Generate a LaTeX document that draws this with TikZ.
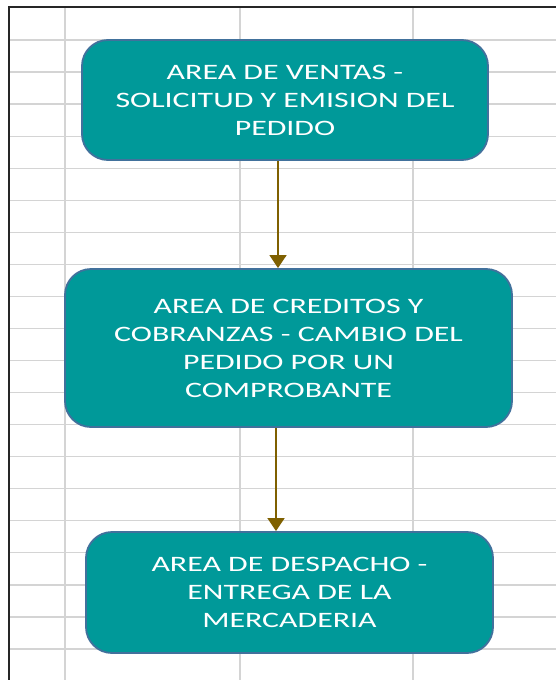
\documentclass[tikz,border=0pt]{standalone}
\usepackage{fontspec}
\newfontfamily\boxfont[FakeStretch=1.45]{Carlito}
\usetikzlibrary{arrows.meta}
\definecolor{tealfill}{HTML}{009999}
\definecolor{boxedge}{HTML}{41719C}
\definecolor{arrowbrown}{HTML}{7F6000}
\definecolor{gridgray}{HTML}{D4D4D4}
\tikzset{
  procbox/.style={draw=boxedge, line width=1.8pt, fill=tealfill, rounded corners=26pt,
    text=white, align=center, inner sep=0pt,
    font=\boxfont\fontsize{22pt}{28pt}\selectfont},
  flowarrow/.style={draw=arrowbrown, line width=1.5pt,
    -{Triangle[width=17pt,length=13pt]}},
  gridline/.style={draw=gridgray, line width=1.3pt},
  border/.style={draw=black!85, line width=1.8pt}
}
\begin{document}
\begin{tikzpicture}[x=1pt,y=-1pt]
\useasboundingbox[fill=white] (0,0) rectangle (556,680);
% spreadsheet grid
\foreach \k in {0,...,19} {
  \draw[gridline] (9,{40+32.05*\k}) -- (556,{40+32.05*\k});
}
\foreach \xx in {65,240,413} {
  \draw[gridline] (\xx,7) -- (\xx,680);
}
\draw[border] (9,680) -- (9,7) -- (556,7);
% boxes
\node[procbox, minimum width=406pt, minimum height=120pt] (b1) at (285,100)
  {AREA DE VENTAS -\\SOLICITUD Y EMISION DEL\\PEDIDO};
\node[procbox, minimum width=447pt, minimum height=158pt] (b2) at (288.5,348)
  {AREA DE CREDITOS Y\\COBRANZAS - CAMBIO DEL\\PEDIDO POR UN\\COMPROBANTE};
\node[procbox, minimum width=407pt, minimum height=121pt] (b3) at (289.5,592.5)
  {AREA DE DESPACHO -\\ENTREGA DE LA\\MERCADERIA};
% arrows
\coordinate (ax1) at (278,0);
\coordinate (ax2) at (276,0);
\draw[flowarrow] (b1.south -| ax1) -- (b2.north -| ax1);
\draw[flowarrow] (b2.south -| ax2) -- (b3.north -| ax2);
\end{tikzpicture}
\end{document}
